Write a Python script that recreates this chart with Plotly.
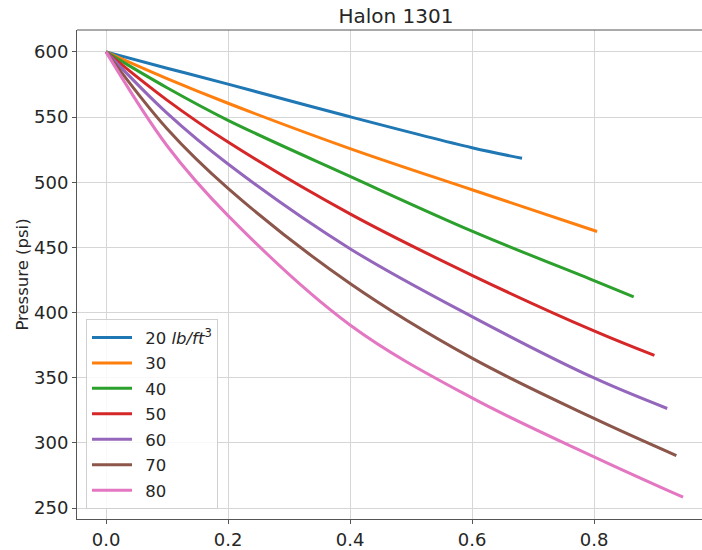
import plotly.graph_objects as go

# Data
labels = ["20 <i>lb/ft</i><sup>3</sup>", "30", "40", "50", "60", "70", "80"]
colors = ["#1f77b4", "#ff7f0e", "#2ca02c", "#d62728", "#9467bd", "#8c564b", "#e377c2"]

x20 = [0, 0.1, 0.2, 0.4, 0.6, 0.682]
y20 = [600, 587.5, 575.3, 550.2, 526.5, 518.4]
x30 = [0, 0.1, 0.2, 0.4, 0.6, 0.805]
y30 = [600, 579.5, 560.6, 525.8, 494.2, 462.2]
x40 = [0, 0.1, 0.2, 0.4, 0.6, 0.8, 0.865]
y40 = [600, 572.5, 547.5, 504.5, 462.5, 424.5, 412.1]
x50 = [0, 0.1, 0.2, 0.4, 0.6, 0.8, 0.899]
y50 = [600, 563.0, 530.8, 475.7, 428.6, 385.9, 367.1]
x60 = [0, 0.1, 0.2, 0.4, 0.6, 0.8, 0.920]
y60 = [600, 553.0, 514.0, 449.0, 396.9, 349.8, 326.4]
x70 = [0, 0.1, 0.2, 0.4, 0.6, 0.8, 0.935]
y70 = [600, 541.0, 495.3, 422.3, 365.0, 318.8, 290.3]
x80 = [0, 0.1, 0.2, 0.4, 0.6, 0.8, 0.946]
y80 = [600, 528.0, 474.4, 390.5, 334.5, 289.3, 258.3]

xs = [x20, x30, x40, x50, x60, x70, x80]
ys = [y20, y30, y40, y50, y60, y70, y80]

x_ticks = [0.0, 0.2, 0.4, 0.6, 0.8]
y_ticks = [250, 300, 350, 400, 450, 500, 550, 600]

FONT = "DejaVu Sans, sans-serif"
TXT = "#262626"

fig = go.Figure()
for i, (lab, col, xx, yy) in enumerate(zip(labels, colors, xs, ys)):
    fig.add_trace(go.Scatter(
        x=xx, y=yy, mode="lines", name="\u2002" + lab,
        line=dict(color=col, width=3, shape="spline", smoothing=1.0),
        legendgroup=f"g{i}",
    ))

fig.update_layout(
    width=702, height=550,
    margin=dict(l=77, r=0, t=30, b=28),
    paper_bgcolor="white", plot_bgcolor="white",
    font=dict(family=FONT, size=16, color=TXT),
    title=dict(text="Halon 1301", x=396 / 702, xanchor="center",
               y=1 - 16 / 550, yanchor="middle",
               font=dict(family=FONT, size=20, color=TXT)),
    showlegend=True,
    legend=dict(x=0.0144, y=0.02, xanchor="left", yanchor="bottom",
                bgcolor="rgba(255,255,255,0.85)", bordercolor="#d0d0d0",
                borderwidth=1, font=dict(family=FONT, size=16.5, color=TXT),
                tracegroupgap=1, itemwidth=40),
    xaxis=dict(range=[-0.0476, 0.977], tickvals=x_ticks,
               ticktext=[f"{v:.1f}" for v in x_ticks],
               showgrid=True, gridcolor="#d6d6d6", gridwidth=1.2,
               zeroline=False, showline=True, linecolor="#555555", linewidth=1,
               ticks="outside", ticklen=4, tickcolor="#555555",
               tickfont=dict(family=FONT, size=18, color=TXT)),
    yaxis=dict(range=[241.6, 616.8], tickvals=y_ticks,
               showgrid=True, gridcolor="#d6d6d6", gridwidth=1.2,
               zeroline=False, showline=True, linecolor="#555555", linewidth=1,
               ticks="outside", ticklen=4, tickcolor="#555555",
               tickfont=dict(family=FONT, size=18, color=TXT),
               title=dict(text="Pressure (psi)", standoff=1,
                          font=dict(family=FONT, size=16.5, color=TXT))),
)

fig.add_shape(type="line", xref="paper", yref="paper", x0=0, x1=1, y0=1, y1=1,
              line=dict(color="#555555", width=1))

fig.write_html("out.html")
